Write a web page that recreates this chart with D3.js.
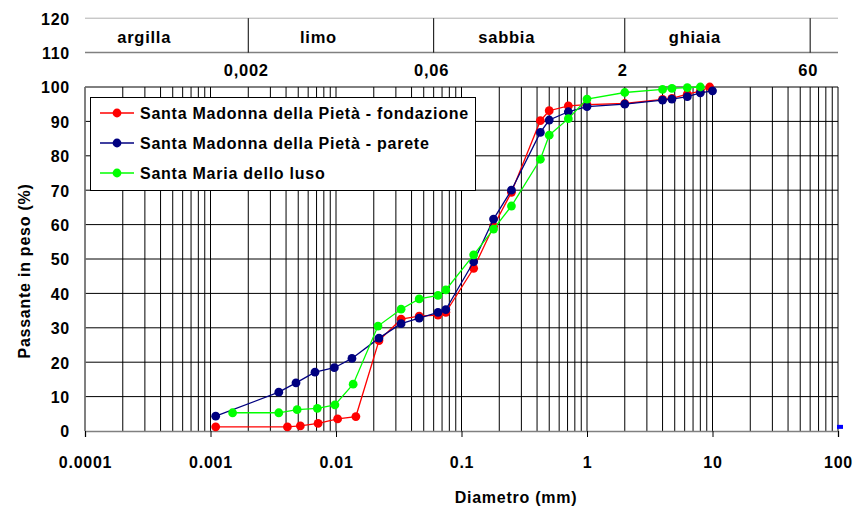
<!DOCTYPE html>
<html>
<head>
<meta charset="utf-8">
<script src="https://cdn.jsdelivr.net/npm/d3@7"></script>
<style>
  html, body { margin: 0; padding: 0; background: #ffffff; }
  svg text { font-family: "Liberation Sans", Arial, sans-serif; font-weight: bold; letter-spacing: 0.75px; fill: #000; }
</style>
</head>
<body>
<svg id="chart" width="856" height="510"></svg>
<script>
// Curve granulometriche: diametro (mm) e passante in peso (%)
const diamFondazione = [0.0011, 0.0041, 0.0052, 0.0072, 0.0103, 0.0144, 0.022, 0.033, 0.046, 0.065, 0.075, 0.125, 0.18, 0.25, 0.425, 0.5, 0.71, 1, 2, 4, 4.75, 6.3, 8, 9.5];
const passFondazione = [1.2, 1.2, 1.5, 2.2, 3.5, 4.2, 26.3, 32.5, 33.4, 33.7, 34.5, 47.3, 59.5, 69.4, 90.2, 93.1, 94.5, 94.9, 95.2, 96.4, 96.7, 97.9, 98.8, 100];

const diamParete = [0.0011, 0.0035, 0.0048, 0.0068, 0.0097, 0.0134, 0.022, 0.033, 0.046, 0.065, 0.075, 0.125, 0.18, 0.25, 0.425, 0.5, 0.71, 1, 2, 4, 4.75, 6.3, 8, 10];
const passParete = [4.3, 11.3, 14.0, 17.1, 18.4, 21.1, 27.0, 31.2, 32.8, 34.5, 35.3, 49.2, 61.6, 70.0, 86.8, 90.4, 92.8, 94.3, 95.0, 96.2, 96.5, 97.2, 98.3, 98.9];

const diamLuso = [0.0015, 0.0035, 0.0049, 0.0071, 0.0098, 0.0137, 0.0216, 0.033, 0.046, 0.065, 0.075, 0.125, 0.18, 0.25, 0.425, 0.5, 0.71, 1, 2, 4, 4.75, 6.3, 8];
const passLuso = [5.3, 5.3, 6.2, 6.6, 7.6, 13.6, 30.5, 35.4, 38.4, 39.4, 41.0, 51.2, 58.7, 65.4, 79.0, 86.0, 90.8, 96.5, 98.4, 99.3, 99.6, 99.8, 100];

const seriesNames = ["Santa Madonna della Pietà - fondazione", "Santa Madonna della Pietà - parete", "Santa Maria dello luso"];
const seriesColors = ["#ff0000", "#000080", "#00ff00"];

// punto isolato sul bordo destro
const edgePoint = [[100, 1.2]];

const xTickValues = [0.0001, 0.001, 0.01, 0.1, 1, 10, 100];
const xTickLabels = ["0.0001", "0.001", "0.01", "0.1", "1", "10", "100"];
const yTickValues = [0, 10, 20, 30, 40, 50, 60, 70, 80, 90, 100, 110, 120];

// classi granulometriche e limiti
const classNames = ["argilla", "limo", "sabbia", "ghiaia"];
const classLimits = [0.0001, 0.002, 0.06, 2, 60];
const limitLabels = ["0,002", "0,06", "2", "60"];

const svg = d3.select("#chart");

const x = d3.scaleLog().domain([0.0001, 100]).range([85, 838]);
const y = d3.scaleLinear().domain([0, 120]).range([431, 18.2]);

const grid = svg.append("g");

// griglia verticale logaritmica
const minorValues = [];
for (let e = -4; e < 2; e++) {
  for (let m = 1; m <= 9; m++) minorValues.push(m * Math.pow(10, e));
}
minorValues.push(100);
grid.selectAll("line.v").data(minorValues).enter().append("line")
  .attr("x1", d => x(d)).attr("x2", d => x(d))
  .attr("y1", y(0)).attr("y2", y(100))
  .attr("stroke", "#000").attr("stroke-width", 1);

// griglia orizzontale
grid.selectAll("line.h").data(d3.range(10, 101, 10)).enter().append("line")
  .attr("x1", x(0.0001)).attr("x2", x(100))
  .attr("y1", d => y(d)).attr("y2", d => y(d))
  .attr("stroke", "#000").attr("stroke-width", 1);

// assi
const xAxis = d3.axisBottom(x).tickValues(xTickValues).tickSize(6).tickFormat((d, i) => xTickLabels[i]);
const gx = svg.append("g").attr("transform", `translate(0,${y(0)})`).call(xAxis);
gx.select(".domain").attr("stroke", "#808080").attr("stroke-width", 1.5);
gx.selectAll(".tick line").attr("stroke", "#000");
gx.selectAll(".tick text").attr("font-size", 16).attr("y", 0).attr("dy", 0)
  .attr("transform", "translate(0,36.5)").attr("font-family", null);

svg.append("line").attr("x1", x(0.0001)).attr("x2", x(0.0001))
  .attr("y1", y(0)).attr("y2", y(100)).attr("stroke", "#808080").attr("stroke-width", 1.5);

const yAxis = d3.axisLeft(y).tickValues(yTickValues).tickSize(0).tickPadding(15);
const gy = svg.append("g").attr("transform", `translate(${x(0.0001)},0)`).call(yAxis);
gy.select(".domain").remove();
gy.selectAll(".tick text").attr("font-size", 16).attr("dy", "0.37em").attr("font-family", null);

// fasce delle classi granulometriche
svg.append("line").attr("x1", x(0.0001)).attr("x2", x(100))
  .attr("y1", y(120)).attr("y2", y(120)).attr("stroke", "#b0b0b0").attr("stroke-width", 1);
svg.append("line").attr("x1", x(0.0001)).attr("x2", x(100))
  .attr("y1", y(110)).attr("y2", y(110)).attr("stroke", "#808080").attr("stroke-width", 1.5);
svg.selectAll("line.sep").data(classLimits.slice(1)).enter().append("line")
  .attr("x1", d => x(d)).attr("x2", d => x(d))
  .attr("y1", y(120)).attr("y2", y(110))
  .attr("stroke", "#000").attr("stroke-width", 1);

svg.selectAll("text.cls").data(classNames).enter().append("text")
  .attr("x", (d, i) => (x(classLimits[i]) + x(classLimits[i + 1])) / 2 - 22.5)
  .attr("y", 43.3)
  .attr("text-anchor", "middle").attr("font-size", 16.5)
  .text(d => d);

svg.selectAll("text.lim").data(limitLabels).enter().append("text")
  .attr("x", (d, i) => x(classLimits[i + 1]) - 2)
  .attr("y", 75.5)
  .attr("text-anchor", "middle").attr("font-size", 16.5)
  .text(d => d);

// curve
const line = d3.line().x(d => x(d[0])).y(d => y(d[1]));
const series = [
  d3.zip(diamFondazione, passFondazione),
  d3.zip(diamParete, passParete),
  d3.zip(diamLuso, passLuso)
];
series.forEach((pts, i) => {
  const g = svg.append("g");
  g.append("path").datum(pts).attr("d", line)
    .attr("fill", "none").attr("stroke", seriesColors[i]).attr("stroke-width", 1.3);
  g.selectAll("circle").data(pts).enter().append("circle")
    .attr("cx", d => x(d[0])).attr("cy", d => y(d[1])).attr("r", 4.4)
    .attr("fill", seriesColors[i]);
});

svg.selectAll("rect.edge").data(edgePoint).enter().append("rect")
  .attr("x", d => x(d[0]) - 1).attr("y", d => y(d[1]) - 2)
  .attr("width", 6).attr("height", 4).attr("fill", "#0000ff");

// legenda
const legend = svg.append("g");
legend.append("rect").attr("x", 90.5).attr("y", 97.5).attr("width", 385).attr("height", 93)
  .attr("fill", "#fff").attr("stroke", "#000").attr("stroke-width", 1);
seriesNames.forEach((name, i) => {
  const ry = 113 + i * 30;
  legend.append("line").attr("x1", 100).attr("x2", 134).attr("y1", ry).attr("y2", ry)
    .attr("stroke", seriesColors[i]).attr("stroke-width", 1.3);
  legend.append("circle").attr("cx", 117).attr("cy", ry).attr("r", 4.4).attr("fill", seriesColors[i]);
  legend.append("text").attr("x", 140).attr("y", ry + 5.5).attr("font-size", 16).text(name);
});

// titoli degli assi
svg.append("text").attr("x", 516).attr("y", 503).attr("text-anchor", "middle")
  .attr("font-size", 16).text("Diametro (mm)");
svg.append("text").attr("transform", "translate(30,271) rotate(-90)")
  .attr("text-anchor", "middle").attr("font-size", 16).text("Passante in peso (%)");
</script>
</body>
</html>
